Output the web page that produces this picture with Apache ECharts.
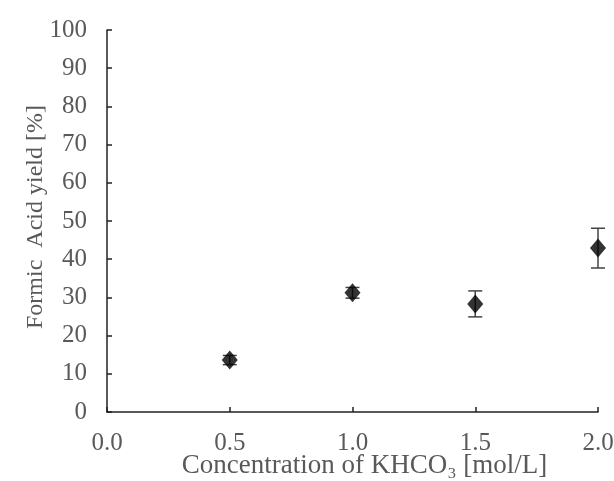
<!DOCTYPE html>
<html>
<head>
<meta charset="utf-8">
<script src="https://cdn.jsdelivr.net/npm/echarts@6/dist/echarts.min.js"></script>
<style>
  html, body { margin: 0; padding: 0; background: #fff; }
  #main { width: 614px; height: 481px; }
</style>
</head>
<body>
<div id="main"></div>
<script>
// concentration of KHCO3 [mol/L]
var concentrations = [0.5, 1.0, 1.5, 2.0];
// formic acid yield [%]
var yieldValues = [13.6, 31.2, 28.3, 42.9];
// error bar half-widths
var yieldErrors = [1.2, 1.4, 3.4, 5.2];

var xTicks = [0.0, 0.5, 1.0, 1.5, 2.0];
var yTicks = [0, 10, 20, 30, 40, 50, 60, 70, 80, 90, 100];

var font = 'Liberation Serif';
var textColor = '#595959';

var pointData = [];
var errData = [];
for (var i = 0; i < concentrations.length; i++) {
  pointData.push([concentrations[i], yieldValues[i]]);
  errData.push([concentrations[i], yieldValues[i] - yieldErrors[i], yieldValues[i] + yieldErrors[i]]);
}

var myChart = echarts.init(document.getElementById('main'), null, { renderer: 'canvas' });

var option = {
  animation: false,
  grid: { left: 107, right: 16, top: 30, bottom: 69, containLabel: false, outerBoundsMode: 'none' },
  xAxis: {
    type: 'value',
    min: xTicks[0],
    max: xTicks[xTicks.length - 1],
    interval: 0.5,
    name: 'Concentration of KHCO\u2083 [mol/L]',
    nameLocation: 'middle',
    nameGap: 40,
    nameMoveOverlap: false,
    nameTextStyle: { fontFamily: font, fontSize: 27, color: textColor, padding: [0, 0, 0, 24] },
    axisLine: { show: true, lineStyle: { color: '#222', width: 1.5 } },
    axisTick: { show: true, inside: true, length: 5, lineStyle: { color: '#222', width: 1.5 } },
    axisLabel: {
      fontFamily: font, fontSize: 25, color: textColor, margin: 19,
      formatter: function (v) { return v.toFixed(1); }
    },
    splitLine: { show: false }
  },
  yAxis: {
    type: 'value',
    min: yTicks[0],
    max: yTicks[yTicks.length - 1],
    interval: 10,
    name: 'Formic  Acid yield [%]',
    nameLocation: 'middle',
    nameGap: 59,
    nameMoveOverlap: false,
    nameTextStyle: { fontFamily: font, fontSize: 24, color: textColor, padding: [0, 0, 0, 8] },
    axisLine: { show: true, lineStyle: { color: '#222', width: 1.5 } },
    axisTick: { show: true, inside: true, length: 5, lineStyle: { color: '#222', width: 1.5 } },
    axisLabel: { fontFamily: font, fontSize: 25, color: textColor, margin: 20 },
    splitLine: { show: false }
  },
  series: [
    {
      type: 'custom',
      name: 'error',
      data: errData,
      z: 1,
      renderItem: function (params, api) {
        var x = api.value(0);
        var lo = api.coord([x, api.value(1)]);
        var hi = api.coord([x, api.value(2)]);
        var hw = 7;
        var style = { stroke: '#444', lineWidth: 1.5, fill: null };
        return {
          type: 'group',
          children: [
            { type: 'line', shape: { x1: lo[0], y1: lo[1], x2: hi[0], y2: hi[1] }, style: style },
            { type: 'line', shape: { x1: lo[0] - hw, y1: lo[1], x2: lo[0] + hw, y2: lo[1] }, style: style },
            { type: 'line', shape: { x1: hi[0] - hw, y1: hi[1], x2: hi[0] + hw, y2: hi[1] }, style: style }
          ]
        };
      }
    },
    {
      type: 'scatter',
      name: 'yield',
      data: pointData,
      z: 2,
      symbol: 'diamond',
      symbolSize: [16, 19],
      itemStyle: { color: '#000' }
    }
  ]
};

myChart.setOption(option);
</script>
</body>
</html>
